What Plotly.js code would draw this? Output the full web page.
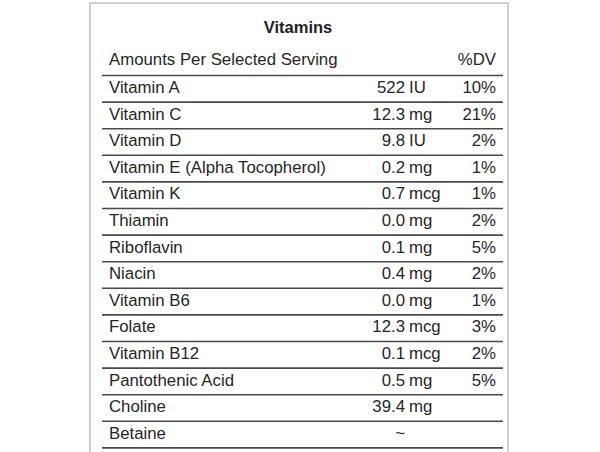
<!DOCTYPE html>
<html>
<head>
<meta charset="utf-8">
<script src="https://cdn.plot.ly/plotly-3.0.1.min.js"></script>
<style>html,body{margin:0;padding:0;background:#fff;}#chart{width:600px;height:452px;}</style>
</head>
<body>
<div id="chart"></div>
<script>
const title = "Vitamins";
const headerLeft = "Amounts Per Selected Serving";
const headerRight = "%DV";
const nutrients = ["Vitamin A","Vitamin C","Vitamin D","Vitamin E (Alpha Tocopherol)","Vitamin K","Thiamin","Riboflavin","Niacin","Vitamin B6","Folate","Vitamin B12","Pantothenic Acid","Choline","Betaine"];
const amounts = ["522","12.3","9.8","0.2","0.7","0.0","0.1","0.4","0.0","12.3","0.1","0.5","39.4","~"];
const units = ["IU","mg","IU","mg","mcg","mg","mg","mg","mg","mcg","mcg","mg","mg",""];
const dailyValues = ["10%","21%","2%","1%","1%","2%","5%","2%","1%","3%","2%","5%","",""];

// layout constants (pixels / row units)
const W = 600, H = 452;
const rowPx = 26.6, row0Px = 88.8;
const colName = 109, colAmt = 405, colUnit = 409, colDV = 496;
const lineX0 = 102, lineX1 = 503;
const txtColor = "#262626";
const fontFam = "Liberation Sans, Arial, sans-serif";
const fs = 16.8;

const rows = nutrients.map((_, i) => i);
const yTop = (0 - row0Px) / rowPx;
const yBot = (H - row0Px) / rowPx;

function textTrace(xv, yv, txt, pos) {
  return {
    type: "scatter", mode: "text", x: xv, y: yv, text: txt,
    textposition: pos, hoverinfo: "skip", showlegend: false,
    textfont: {family: fontFam, size: fs, color: txtColor},
    cliponaxis: false
  };
}

const traces = [
  textTrace([colName], [-1.05], [headerLeft], "middle right"),
  textTrace([colDV], [-1.05], [headerRight], "middle left"),
  textTrace(rows.map(() => colName), rows, nutrients, "middle right"),
  textTrace(rows.map(() => colAmt), rows, amounts, "middle left"),
  textTrace(rows.map(() => colUnit), rows, units, "middle right"),
  textTrace(rows.map(() => colDV), rows, dailyValues, "middle left")
];

const shapes = [{
  type: "rect", xref: "x", yref: "paper", x0: 90, x1: 508, y0: -0.05, y1: 1 - 3 / H,
  line: {color: "#cfcfcf", width: 2}, fillcolor: "rgba(0,0,0,0)"
}];
for (let k = -1; k < nutrients.length; k++) {
  shapes.push({
    type: "line", xref: "x", yref: "y", x0: lineX0, x1: lineX1, y0: k + 0.5, y1: k + 0.5,
    line: {color: "#4a4a4a", width: 1.6}
  });
}

const layout = {
  width: W, height: H,
  margin: {l: 0, r: 0, t: 0, b: 0},
  paper_bgcolor: "#ffffff", plot_bgcolor: "#ffffff",
  title: {text: "<b>" + title + "</b>", x: 298 / W, xanchor: "center", y: 1 - 27 / H, yanchor: "middle",
          font: {family: fontFam, size: 16.5, color: "#222222"}},
  xaxis: {range: [0, W], visible: false, fixedrange: true},
  yaxis: {range: [yBot, yTop], visible: false, fixedrange: true},
  shapes: shapes,
  showlegend: false
};

Plotly.newPlot("chart", traces, layout, {staticPlot: true, displayModeBar: false});
</script>
</body>
</html>
